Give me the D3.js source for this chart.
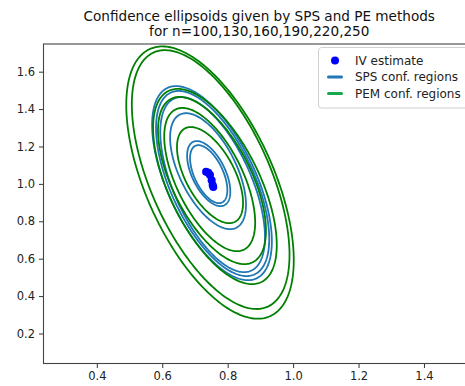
<!DOCTYPE html>
<html>
<head>
<meta charset="utf-8">
<script src="https://cdn.jsdelivr.net/npm/d3@7"></script>
<style>
  html, body { margin: 0; padding: 0; background: #fff; }
  svg { display: block; font-family: "DejaVu Sans", sans-serif; }
</style>
</head>
<body>
<svg id="chart" width="465" height="386"></svg>
<script>
// sample sizes, one ellipse of each kind per n
const nValues = [100, 130, 160, 190, 220, 250]

// IV point estimates
const ivX = [0.756, 0.754, 0.751, 0.746, 0.741, 0.734]
const ivY = [0.983, 0.994, 1.020, 1.047, 1.059, 1.065]

// SPS confidence regions: centre, half extent in x / y, correlation
const spsCx  = [0.752, 0.754, 0.754, 0.740, 0.742, 0.742]
const spsCy  = [1.004, 1.002, 0.996, 1.068, 1.055, 1.052]
const spsSx  = [0.183, 0.173, 0.160, 0.116, 0.066, 0.057]
const spsSy  = [0.519, 0.495, 0.468, 0.310, 0.174, 0.155]
const spsRho = [-0.60, -0.60, -0.60, -0.58, -0.55, -0.55]

// PEM confidence regions
const pemCx  = [0.746, 0.748, 0.761, 0.752, 0.745, 0.746]
const pemCy  = [1.007, 1.023, 0.986, 1.018, 1.023, 1.047]
const pemSx  = [0.256, 0.241, 0.189, 0.165, 0.139, 0.101]
const pemSy  = [0.728, 0.692, 0.522, 0.447, 0.383, 0.257]
const pemRho = [-0.57, -0.58, -0.60, -0.60, -0.60, -0.58]

const xTicks = [0.4, 0.6, 0.8, 1.0, 1.2, 1.4]
const yTicks = [0.2, 0.4, 0.6, 0.8, 1.0, 1.2, 1.4, 1.6]
const legendLabels = ['IV estimate', 'SPS conf. regions', 'PEM conf. regions']
const titleLines = ['Confidence ellipsoids given by SPS and PE methods', 'for n=100,130,160,190,220,250']

const spsColor = '#1f77b4'
const pemColor = '#008000'
const pemLegendColor = '#17a84a'
const ivColor = '#0000ff'

const svg = d3.select('#chart')
const plot = { left: 43.5, right: 475, top: 44, bottom: 363.5 }

const x = d3.scaleLinear().domain([0.237, 1.556]).range([plot.left, plot.right])
const y = d3.scaleLinear().domain([0.0395, 1.748]).range([plot.bottom, plot.top])

// title
svg.selectAll('text.title').data(titleLines).enter().append('text')
    .attr('class', 'title')
    .attr('x', (plot.left + plot.right) / 2)
    .attr('y', (d, i) => 21 + i * 15)
    .attr('text-anchor', 'middle')
    .attr('font-size', 13.6)
    .attr('fill', '#111')
    .text(d => d)

svg.append('clipPath').attr('id', 'clip').append('rect')
    .attr('x', plot.left).attr('y', plot.top)
    .attr('width', plot.right - plot.left).attr('height', plot.bottom - plot.top)

const g = svg.append('g').attr('clip-path', 'url(#clip)')

function ellipsePoints(cx, cy, sx, sy, rho) {
    const pts = []
    const k = Math.sqrt(1 - rho * rho)
    for (let i = 0; i < 240; i++) {
        const t = i / 240 * 2 * Math.PI
        pts.push([cx + sx * Math.cos(t), cy + sy * (rho * Math.cos(t) + k * Math.sin(t))])
    }
    return pts
}

const line = d3.line().x(d => x(d[0])).y(d => y(d[1])).curve(d3.curveLinearClosed)

nValues.forEach((n, i) => {
    g.append('path')
        .attr('d', line(ellipsePoints(spsCx[i], spsCy[i], spsSx[i], spsSy[i], spsRho[i])))
        .attr('fill', 'none').attr('stroke', spsColor).attr('stroke-width', 1.8)
    g.append('path')
        .attr('d', line(ellipsePoints(pemCx[i], pemCy[i], pemSx[i], pemSy[i], pemRho[i])))
        .attr('fill', 'none').attr('stroke', pemColor).attr('stroke-width', 1.8)
})

g.selectAll('circle.iv').data(nValues).enter().append('circle')
    .attr('class', 'iv')
    .attr('cx', (d, i) => x(ivX[i]))
    .attr('cy', (d, i) => y(ivY[i]))
    .attr('r', 4)
    .attr('fill', ivColor)

// axes
const xAxis = svg.append('g').attr('transform', `translate(0,${plot.bottom})`)
    .call(d3.axisBottom(x).tickValues(xTicks).tickFormat(d3.format('.1f')).tickSize(4.5).tickPadding(4))
const yAxis = svg.append('g').attr('transform', `translate(${plot.left},0)`)
    .call(d3.axisLeft(y).tickValues(yTicks).tickFormat(d3.format('.1f')).tickSize(4.5).tickPadding(4))
for (const ax of [xAxis, yAxis]) {
    ax.select('.domain').remove()
    ax.selectAll('line').attr('stroke', '#333').attr('stroke-width', 1)
    ax.selectAll('text').attr('font-size', 11.5).attr('fill', '#222')
        .attr('font-family', '"DejaVu Sans", sans-serif')
}

svg.append('rect')
    .attr('x', plot.left).attr('y', plot.top)
    .attr('width', plot.right - plot.left).attr('height', plot.bottom - plot.top)
    .attr('fill', 'none').attr('stroke', '#444').attr('stroke-width', 1.1)

// legend
const legend = svg.append('g').attr('transform', 'translate(318.5,47.5)')
legend.append('rect')
    .attr('width', 160).attr('height', 60.5).attr('rx', 3)
    .attr('fill', '#fff').attr('fill-opacity', 0.8)
    .attr('stroke', '#d0d0d0').attr('stroke-width', 1)

const rows = legend.selectAll('g.row').data(legendLabels).enter().append('g')
    .attr('class', 'row')
    .attr('transform', (d, i) => `translate(0,${13 + i * 16.5})`)

rows.filter((d, i) => i === 0).append('circle')
    .attr('cx', 16.5).attr('cy', 0).attr('r', 4).attr('fill', ivColor)
rows.filter((d, i) => i > 0).append('line')
    .attr('x1', 10).attr('x2', 23).attr('y1', 0).attr('y2', 0)
    .attr('stroke', (d, i) => i === 0 ? spsColor : pemLegendColor)
    .attr('stroke-width', 3).attr('stroke-linecap', 'round')
rows.append('text')
    .attr('x', 36.5).attr('y', 4.2)
    .attr('font-size', 12).attr('fill', '#222')
    .text(d => d)
</script>
</body>
</html>
